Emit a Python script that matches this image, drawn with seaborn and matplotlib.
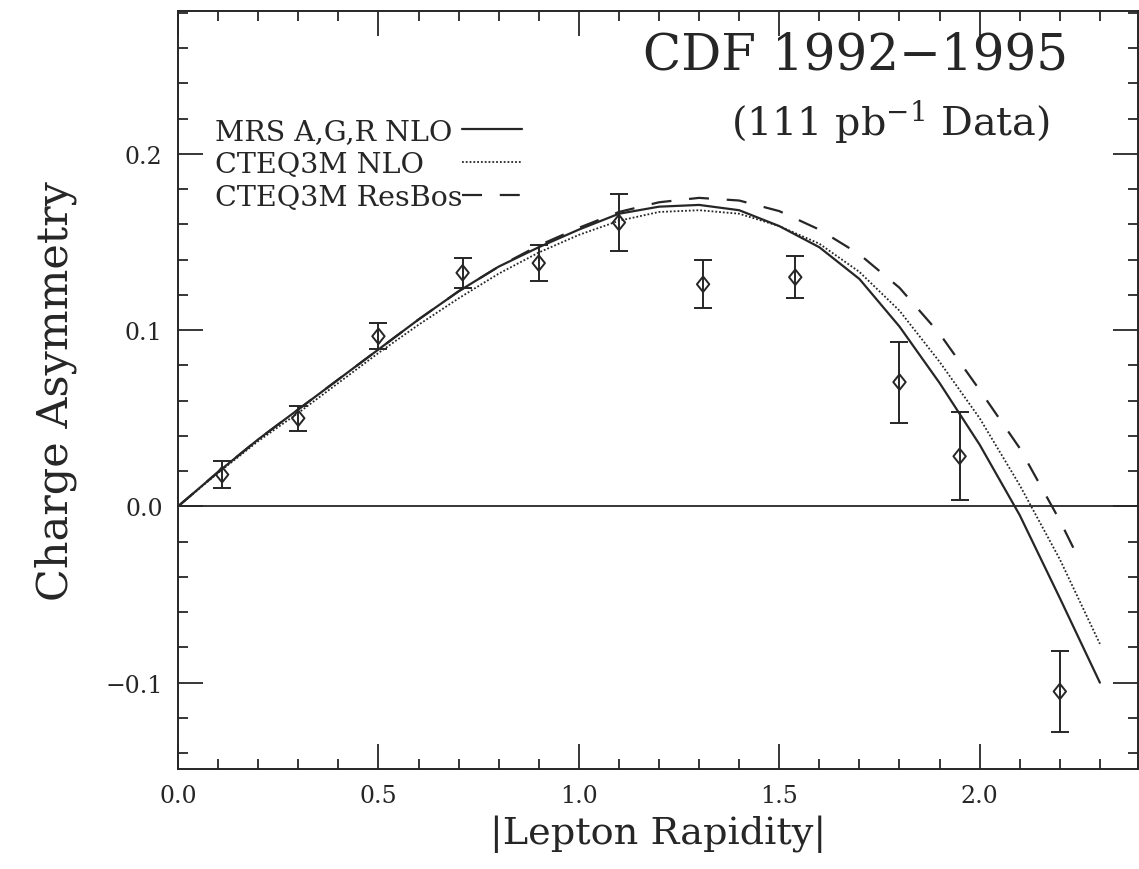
import matplotlib
matplotlib.use("Agg")
import matplotlib.pyplot as plt
from matplotlib.ticker import MultipleLocator
import numpy as np
import pandas as pd
import seaborn as sns

# ---------------- data ----------------
rapidity_grid = [0.0, 0.1, 0.2, 0.3, 0.4, 0.5, 0.6, 0.7, 0.8, 0.9, 1.0, 1.1,
                 1.2, 1.3, 1.4, 1.5, 1.6, 1.7, 1.8, 1.9, 2.0, 2.1, 2.2, 2.3]
mrs_nlo = [0.0, 0.0195, 0.038, 0.055, 0.072, 0.089, 0.106, 0.122, 0.136, 0.147,
           0.157, 0.166, 0.170, 0.171, 0.168, 0.159, 0.147, 0.129, 0.102, 0.070,
           0.035, -0.005, -0.052, -0.100]
cteq3m_nlo = [0.0, 0.019, 0.037, 0.053, 0.070, 0.087, 0.103, 0.118, 0.132, 0.144,
              0.154, 0.162, 0.167, 0.168, 0.166, 0.159, 0.149, 0.133, 0.111, 0.082,
              0.050, 0.012, -0.030, -0.078]
resbos_grid = [0.0, 0.1, 0.2, 0.3, 0.4, 0.5, 0.6, 0.7, 0.8, 0.9, 1.0, 1.1,
               1.2, 1.3, 1.4, 1.5, 1.6, 1.7, 1.8, 1.9, 2.0, 2.1, 2.2, 2.25]
cteq3m_resbos = [0.0, 0.0195, 0.038, 0.055, 0.072, 0.089, 0.106, 0.122, 0.136, 0.148,
                 0.158, 0.167, 0.1725, 0.175, 0.1735, 0.1675, 0.157, 0.143, 0.124, 0.098,
                 0.066, 0.033, -0.008, -0.031]

data_rapidity = [0.11, 0.30, 0.50, 0.71, 0.90, 1.10, 1.31, 1.54, 1.80, 1.95, 2.20]
data_asym = [0.018, 0.050, 0.0965, 0.1325, 0.138, 0.161, 0.126, 0.130, 0.0705, 0.0284, -0.105]
data_err = [0.0075, 0.007, 0.0075, 0.0085, 0.010, 0.016, 0.0137, 0.012, 0.023, 0.025, 0.023]

model_labels = ["MRS A,G,R NLO", "CTEQ3M NLO", "CTEQ3M ResBos"]
x_ticks = [0.0, 0.5, 1.0, 1.5, 2.0]
y_ticks = [-0.1, 0.0, 0.1, 0.2]

# ---------------- style ----------------
sns.set_theme(style="ticks")
plt.rcParams["font.family"] = ["DejaVu Serif"]
plt.rcParams["mathtext.fontset"] = "dejavuserif"
ink = "#262626"

fig = plt.figure(figsize=(11.39, 8.70), dpi=100)
ax = fig.add_axes([0.1563, 0.1149, 0.8428, 0.8713])

curves = pd.concat([
    pd.DataFrame({"rap": rapidity_grid, "asym": mrs_nlo, "model": model_labels[0]}),
    pd.DataFrame({"rap": rapidity_grid, "asym": cteq3m_nlo, "model": model_labels[1]}),
    pd.DataFrame({"rap": resbos_grid, "asym": cteq3m_resbos, "model": model_labels[2]}),
], ignore_index=True)

line_styles = {model_labels[0]: ("", 1.6), model_labels[1]: ((1, 1.1), 1.3),
               model_labels[2]: ((9, 8), 1.6)}
for lab in model_labels:
    dash, lw = line_styles[lab]
    sub = curves[curves["model"] == lab]
    sns.lineplot(data=sub, x="rap", y="asym", color=ink, lw=lw, ax=ax,
                 estimator=None, sort=False, legend=False)
    ln = ax.lines[-1]
    if dash:
        ln.set_dashes(dash)

model_lines = list(ax.lines)

ax.axhline(0.0, color=ink, lw=1.3, zorder=1)

ax.errorbar(data_rapidity, data_asym, yerr=data_err, fmt="none", ecolor=ink,
            elinewidth=1.4, capsize=6.8, capthick=1.4, zorder=3)
diamond = [(0, 1), (0.8, 0), (0, -1), (-0.8, 0), (0, 1)]
sns.scatterplot(x=data_rapidity, y=data_asym, marker=diamond, s=125,
                facecolor="none", edgecolor=ink, linewidth=1.4, ax=ax, zorder=4)

ax.set_xlim(0.0, 2.395)
ax.set_ylim(-0.149, 0.281)
ax.set_xticks(x_ticks)
ax.set_yticks(y_ticks)
ax.set_xticklabels([f"{v:.1f}" for v in x_ticks])
ax.set_yticklabels([f"{v:.1f}".replace("-", "\u2212") for v in y_ticks])
ax.xaxis.set_minor_locator(MultipleLocator(0.1))
ax.yaxis.set_minor_locator(MultipleLocator(0.02))
ax.tick_params(which="both", direction="in", top=True, right=True, colors=ink,
               width=1.3, labelsize=17, pad=11)
ax.tick_params(which="major", length=18)
ax.tick_params(which="minor", length=7)
for sp in ax.spines.values():
    sp.set_color(ink)
    sp.set_linewidth(1.4)

ax.set_xlabel("|Lepton Rapidity|", fontsize=27.5, color=ink, labelpad=5)
ax.set_ylabel("Charge Asymmetry", fontsize=31, color=ink, labelpad=20)

ax.text(0.706, 0.9235, "CDF 1992\u22121995", transform=ax.transAxes, ha="center",
        va="baseline", fontsize=36, color=ink)
ax.text(0.742, 0.838, r"(111 pb$^{-1}$ Data)", transform=ax.transAxes, ha="center",
        va="baseline", fontsize=28.5, color=ink)

# legend: text on the left, line sample on the right
leg = ax.legend(handles=model_lines, labels=model_labels, loc="upper left",
                bbox_to_anchor=(0.2958, 0.8594), frameon=False, fontsize=20.5,
                handlelength=2.1, borderpad=0, borderaxespad=0,
                labelspacing=0.22, handletextpad=0.2)
for t in leg.get_texts():
    t.set_alpha(0)
fig.canvas.draw()
inv = ax.transAxes.inverted()
for t, lab in zip(leg.get_texts(), model_labels):
    bb = t.get_window_extent()
    y_ax = inv.transform((0, bb.y0))[1]
    ax.text(0.0385, y_ax, lab, transform=ax.transAxes, ha="left", va="bottom",
            fontsize=20.5, color=ink)

fig.savefig("out.png", dpi=100, facecolor="white")
